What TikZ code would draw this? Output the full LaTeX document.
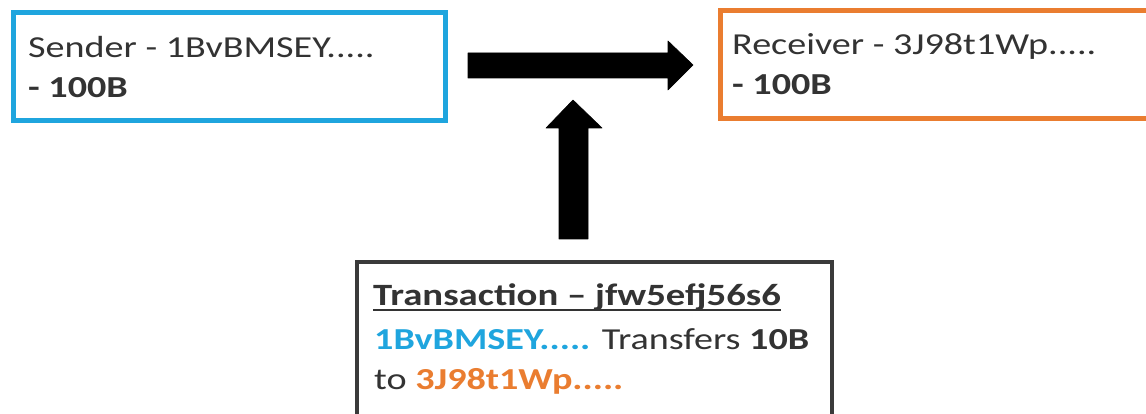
\documentclass[tikz,border=0pt]{standalone}
\usepackage{fontspec}
\setmainfont{Carlito}[FakeStretch=1.25]
\definecolor{addrblue}{HTML}{1FA5DE}
\definecolor{addrorange}{HTML}{EA7D30}
\definecolor{ink}{HTML}{333333}
\definecolor{frame}{HTML}{3A3A3A}
\tikzset{
  box/.style={draw, line width=5pt, fill=white, inner sep=0pt},
  label/.style={anchor=base west, inner sep=0pt, text=ink,
    font=\fontsize{30.5}{36}\selectfont},
  title/.style={label, font=\fontsize{31}{36}\selectfont\bfseries},
  blockarrow/.style={fill=black, draw=black, line width=0.6pt, line join=round}
}
\begin{document}
\begin{tikzpicture}[x=1pt,y=1pt]
  \useasboundingbox (0,0) rectangle (1146,414);

  % account boxes
  \node[box, draw=addrblue, anchor=north west, minimum width=432pt,
        minimum height=108pt] (sender) at (11,404) {};
  \node[box, draw=addrorange, anchor=north west, minimum width=440pt,
        minimum height=108pt] (receiver) at (718,406) {};
  \node[box, draw=frame, line width=4pt, anchor=north west,
        minimum width=475pt, minimum height=170pt] (tx) at (355,154) {};

  % sender text
  \node[label] (s1) at (28,356) {Sender - 1BvBMSEY.....};
  \node[label] (s2) at (28,316) {\bfseries - 100B};

  % receiver text
  \node[label] (r1) at (732,359) {Receiver - 3J98t1Wp.....};
  \node[label] (r2) at (732,319) {\bfseries - 100B};

  % transaction text
  \node[title] (t1) at (373,108) {Transaction -- jfw5efj56s6};
  \draw[ink, line width=2pt] ([yshift=-4pt]t1.base west) -- ([yshift=-4pt]t1.base east);
  \node[label] (t2) at (374,64) {{\bfseries\color{addrblue}1BvBMSEY.....} Transfers {\bfseries 10B}};
  \node[label] (t3) at (374,24) {to {\bfseries\color{addrorange}3J98t1Wp.....}};

  % block arrows
  \fill[blockarrow] (468,361) -- (668,361) -- (668,373) -- (693,349)
        -- (668,324) -- (668,336) -- (468,336) -- cycle;
  \fill[blockarrow] (559,175) -- (559,286) -- (546,286) -- (573,314)
        -- (602,286) -- (588,286) -- (588,175) -- cycle;
\end{tikzpicture}
\end{document}
